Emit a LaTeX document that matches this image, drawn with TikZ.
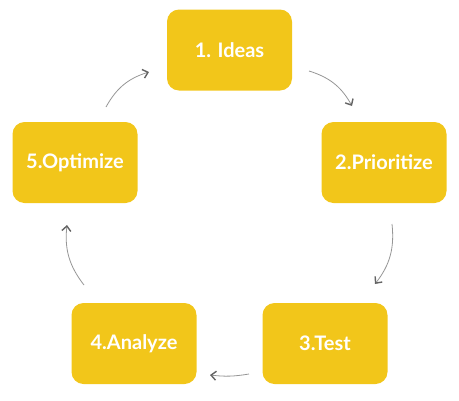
\documentclass[tikz,border=0pt]{standalone}
\usepackage{fontspec}
\setmainfont{Lato}
\usetikzlibrary{arrows.meta}
\definecolor{boxyellow}{RGB}{242,198,26}
\definecolor{shaftgray}{RGB}{150,150,150}
\definecolor{tipgray}{RGB}{100,100,100}
\tikzset{
  stepbox/.style={rectangle, rounded corners=12pt, fill=boxyellow, minimum width=125pt, minimum height=81pt, inner sep=0pt, text=white, font=\fontsize{20}{22}\selectfont\bfseries},
  cyc/.style={draw=shaftgray, line width=0.8pt, -{Straight Barb[color=tipgray, line width=1.4pt, length=5pt, width=9pt]}, bend left=22}
}
\begin{document}
\begin{tikzpicture}[x=1pt,y=1pt]
\useasboundingbox (0,0) rectangle (459,-400);
\node[stepbox] (b1) at (229.5,-50) {1. Ideas};
\node[stepbox] (b2) at (384,-162.5) {2.Prioritize};
\node[stepbox] (b3) at (325,-343.5) {3.Test};
\node[stepbox] (b4) at (134,-343.5) {4.Analyze};
\node[stepbox] (b5) at (75,-162.5) {5.Optimize};
\coordinate (a1s) at (309,-71);
\coordinate (a1e) at (352,-106);
\coordinate (a2s) at (392,-224);
\coordinate (a2e) at (375,-284);
\coordinate (a3s) at (249,-374);
\coordinate (a3e) at (210,-375);
\coordinate (a4s) at (84,-285);
\coordinate (a4e) at (67,-225);
\coordinate (a5s) at (106,-107);
\coordinate (a5e) at (149,-72);
\draw[cyc] (a1s) to (a1e);
\draw[cyc] (a2s) to (a2e);
\draw[cyc, bend left=8] (a3s) to (a3e);
\draw[cyc] (a4s) to (a4e);
\draw[cyc] (a5s) to (a5e);
\end{tikzpicture}
\end{document}
